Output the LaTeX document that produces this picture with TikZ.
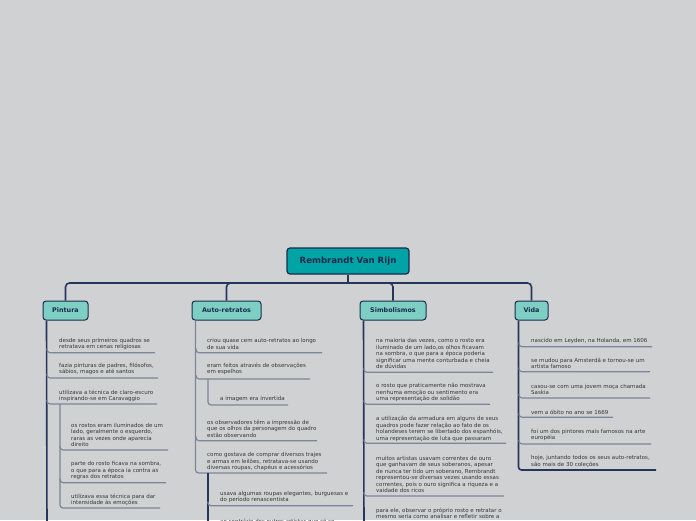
\documentclass[tikz,border=0pt]{standalone}
\usepackage{fontspec}
\setmainfont{DejaVu Sans}
\usetikzlibrary{calc}
\definecolor{bg}{HTML}{D0D1D3}
\definecolor{rootfill}{HTML}{00A4A6}
\definecolor{catfill}{HTML}{7ECFC3}
\definecolor{navy}{HTML}{1D2A4C}
\definecolor{linedark}{HTML}{26355C}
\definecolor{linegray}{HTML}{7C869A}
\definecolor{itemtext}{HTML}{363636}
\tikzset{
 rootbox/.style={draw=navy, line width=1.2pt, fill=rootfill, rounded corners=3pt, minimum width=122pt, minimum height=26pt, inner sep=0pt, font=\fontsize{8.6}{10}\selectfont\bfseries, text=navy},
 catbox/.style={draw=navy, line width=1pt, fill=catfill, rounded corners=3pt, minimum height=19pt, inner sep=0pt, font=\fontsize{6.4}{7.5}\selectfont\bfseries, text=navy},
 mainline/.style={draw=linedark, line width=1.6pt, rounded corners=4pt},
 vdark/.style={draw=linedark, line width=1.6pt, rounded corners=3pt},
 vgray/.style={draw=linegray, line width=1.2pt, rounded corners=3pt},
 uline/.style={draw=linegray, line width=1.2pt, rounded corners=3pt},
 item/.style={anchor=west, inner sep=0pt, align=left, font=\fontsize{5.5}{6.5}\selectfont, text=itemtext},
}
\begin{document}
\begin{tikzpicture}[x=1pt,y=-1pt]
\useasboundingbox (0,0) rectangle (696,520);
\clip (0,0) rectangle (696,520);
\fill[bg] (0,0) rectangle (696,520);

% ---------- nodes ----------
\node[rootbox] (root) at (348,261) {Rembrandt Van Rijn};
\node[catbox, minimum width=45pt] (pin) at (65.5,310.5) {Pintura};
\node[catbox, minimum width=69pt] (aut) at (226.5,310.5) {Auto-retratos};
\node[catbox, minimum width=66pt] (sim) at (393,310.5) {Simbolismos};
\node[catbox, minimum width=33pt] (vid) at (531.5,310.5) {Vida};
\coordinate (hub) at (348,283);

% ---------- main connectors ----------
\draw[mainline] (root.south) -- (hub);
\draw[mainline] (hub) -| (pin.north);
\draw[mainline] (hub) -| (aut.north);
\draw[mainline] (hub) -| (sim.north);
\draw[mainline] (hub) -| (vid.north);

% ---------- Pintura ----------
\coordinate (pend) at (47,530);
\coordinate (p1a) at (47,352.7); \coordinate (p1b) at (155,352.7);
\coordinate (p2a) at (47,378);   \coordinate (p2b) at (158,378);
\coordinate (p3a) at (47,404);   \coordinate (p3b) at (157,404);
\coordinate (psub) at (60,404);
\coordinate (pab) at (168,450);  \coordinate (paa) at (60,450);
\coordinate (pbb) at (166,482.7);\coordinate (pba) at (60,482.7);
\coordinate (pcb) at (160,508);
\draw[vdark] ([xshift=4pt]pin.south west) -- (pend);
\draw[uline] ($(p1a)+(0,-4)$) |- (p1b);
\draw[uline] ($(p2a)+(0,-4)$) |- (p2b);
\draw[uline] ($(p3a)+(0,-4)$) |- (p3b);
\draw[vgray] (psub) |- (pcb);
\draw[uline] ($(paa)+(0,-4)$) |- (pab);
\draw[uline] ($(pba)+(0,-4)$) |- (pbb);
\node[item] (p1) at (59,343.8) {desde seus primeiros quadros se\\retratava em cenas religiosas};
\node[item] (p2) at (59,369) {fazia pinturas de padres, filósofos,\\sábios, magos e até santos};
\node[item] (p3) at (59,396) {utilizava a técnica de claro-escuro\\inspirando-se em Caravaggio};
\node[item] (pa) at (71,435) {os rostos eram iluminados de um\\lado, geralmente o esquerdo,\\raras as vezes onde aparecia\\direito};
\node[item] (pb) at (71,470.7) {parte do rosto ficava na sombra,\\o que para a época ia contra as\\regras dos retratos};
\node[item] (pc) at (71,500) {utilizava essa técnica para dar\\intensidade às emoções};

% ---------- Auto-retratos ----------
\coordinate (a1a) at (196,352.7); \coordinate (a1b) at (322,352.7);
\coordinate (a2a) at (196,379);   \coordinate (a2b) at (310,379);
\coordinate (a3a) at (196,440.7); \coordinate (a3b) at (317,440.7);
\coordinate (a4b) at (327,473);
\coordinate (a2sub) at (208,379); \coordinate (a2xb) at (288,405);
\coordinate (a4sub) at (208,473); \coordinate (a4end) at (208,530);
\coordinate (a4xa) at (208,505.7);\coordinate (a4xb) at (353,505.7);
\draw[vgray] ([xshift=4pt]aut.south west) |- (a4b);
\draw[uline] ($(a1a)+(0,-4)$) |- (a1b);
\draw[uline] ($(a2a)+(0,-4)$) |- (a2b);
\draw[uline] ($(a3a)+(0,-4)$) |- (a3b);
\draw[vgray] (a2sub) |- (a2xb);
\draw[vdark] (a4sub) -- (a4end);
\draw[uline] ($(a4xa)+(0,-4)$) |- (a4xb);
\node[item] (a1) at (207,343.8) {criou quase cem auto-retratos ao longo\\de sua vida};
\node[item] (a2) at (207,369) {eram feitos através de observações\\em espelhos};
\node[item] (a2x) at (220,399) {a imagem era invertida};
\node[item] (a3) at (207,428.7) {os observadores têm a impressão de\\que os olhos da personagem do quadro\\estão observando};
\node[item] (a4) at (207,461.5) {como gostava de comprar diversos trajes\\e armas em leilões, retratava-se usando\\diversas roupas, chapéus e acessórios};
\node[item] (a4x) at (220,497) {usava algumas roupas elegantes, burguesas e\\do período renascentista};
\node[item] (a4y) at (220,521.5) {ao contrário dos outros artistas que só se};

% ---------- Simbolismos ----------
\coordinate (send) at (364,530);
\coordinate (s1a) at (364,372.3); \coordinate (s1b) at (493,372.3);
\coordinate (s2a) at (364,404.3); \coordinate (s2b) at (490,404.3);
\coordinate (s3a) at (364,443.3); \coordinate (s3b) at (506,443.3);
\coordinate (s4a) at (364,496);   \coordinate (s4b) at (504,496);
\draw[vdark] ([xshift=4pt]sim.south west) -- (send);
\draw[uline] ($(s1a)+(0,-4)$) |- (s1b);
\draw[uline] ($(s2a)+(0,-4)$) |- (s2b);
\draw[uline] ($(s3a)+(0,-4)$) |- (s3b);
\draw[uline] ($(s4a)+(0,-4)$) |- (s4b);
\node[item] (s1) at (376,353.8) {na maioria das vezes, como o rosto era\\iluminado de um lado,os olhos ficavam\\na sombra, o que para a época poderia\\significar uma mente conturbada e cheia\\de dúvidas};
\node[item] (s2) at (376,392.7) {o rosto que praticamente não mostrava\\nenhuma emoção ou sentimento era\\uma representação de solidão};
\node[item] (s3) at (376,428.8) {a utilização da armadura em alguns de seus\\quadros pode fazer relação ao fato de os\\holandeses terem se libertado dos espanhóis,\\uma representação de luta que passaram};
\node[item] (s4) at (376,474.5) {muitos artistas usavam correntes de ouro\\que ganhavam de seus soberanos, apesar\\de nunca ter tido um soberano, Rembrandt\\representou-se diversas vezes usando essas\\correntes, pois o ouro significa a riqueza e a\\vaidade dos ricos};
\node[item] (s5) at (376,513.3) {para ele, observar o próprio rosto e retratar o\\mesmo seria como analisar e refletir sobre a};

% ---------- Vida ----------
\coordinate (v1a) at (519,346.7); \coordinate (v1b) at (652,346.7);
\coordinate (v2a) at (519,371.7); \coordinate (v2b) at (650,371.7);
\coordinate (v3a) at (519,398);   \coordinate (v3b) at (650,398);
\coordinate (v4a) at (519,417.3); \coordinate (v4b) at (613,417.3);
\coordinate (v5a) at (519,444);   \coordinate (v5b) at (651,444);
\coordinate (v6b) at (656,470);
\draw[vdark] ([xshift=4pt]vid.south west) |- (v6b);
\draw[uline] ($(v1a)+(0,-4)$) |- (v1b);
\draw[uline] ($(v2a)+(0,-4)$) |- (v2b);
\draw[uline] ($(v3a)+(0,-4)$) |- (v3b);
\draw[uline] ($(v4a)+(0,-4)$) |- (v4b);
\draw[uline] ($(v5a)+(0,-4)$) |- (v5b);
\node[item] (v1) at (531,340.7) {nascido em Leyden, na Holanda, em 1606};
\node[item] (v2) at (531,363.5) {se mudou para Amsterdã e tornou-se um\\artista famoso};
\node[item] (v3) at (531,389.5) {casou-se com uma jovem moça chamada\\Saskia};
\node[item] (v4) at (531,412) {vem a óbito no ano se 1669};
\node[item] (v5) at (531,435) {foi um dos pintores mais famosos na arte\\européia};
\node[item] (v6) at (531,461.3) {hoje, juntando todos os seus auto-retratos,\\são mais de 30 coleções};
\end{tikzpicture}
\end{document}
